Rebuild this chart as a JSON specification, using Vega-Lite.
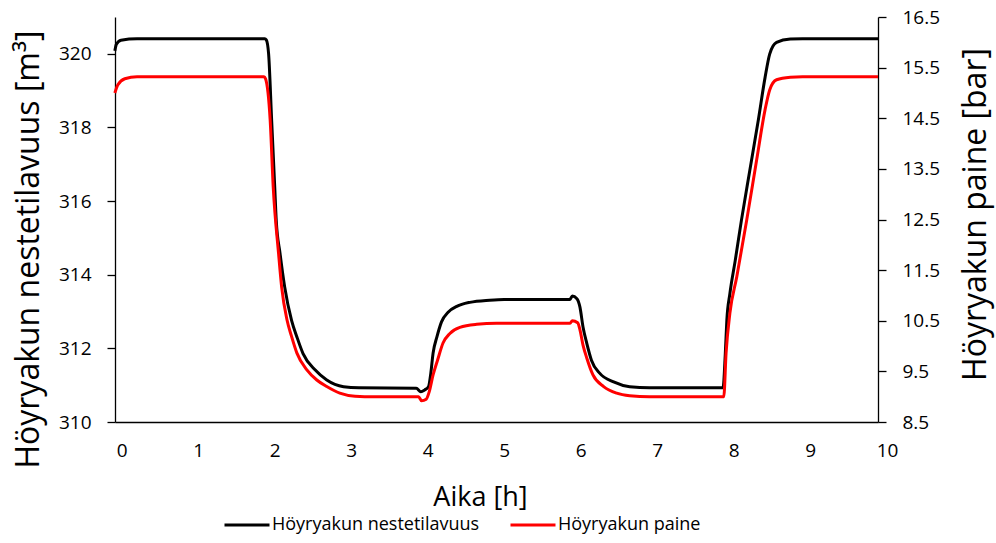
{
  "$schema": "https://vega.github.io/schema/vega-lite/v6.json",
  "width": 763,
  "height": 405,
  "autosize": {"type": "none"},
  "padding": {"left": 115, "top": 17, "right": 118, "bottom": 121},
  "background": "white",
  "config": {
    "view": {"stroke": null},
    "font": "Open Sans",
    "axis": {
      "grid": false,
      "domainColor": "#000000",
      "tickColor": "#000000",
      "labelColor": "#000000",
      "titleColor": "#000000",
      "labelFont": "Open Sans",
      "titleFont": "Open Sans",
      "titleFontWeight": "normal",
      "domainWidth": 1.3,
      "tickWidth": 1.3,
      "labelFontSize": 19
    },
    "legend": {"labelFont": "Open Sans", "labelColor": "#000000"}
  },
  "datasets": {
    "vol": [
      {"t": -0.09, "v": 320.08}, {"t": -0.07, "v": 320.26}, {"t": -0.01, "v": 320.37}, {"t": 0.2, "v": 320.41},
      {"t": 1.87, "v": 320.41}, {"t": 1.89, "v": 320.38}, {"t": 1.92, "v": 320.0}, {"t": 1.96, "v": 318.18},
      {"t": 2.0, "v": 316.38}, {"t": 2.02, "v": 315.47}, {"t": 2.07, "v": 314.57}, {"t": 2.13, "v": 313.67},
      {"t": 2.22, "v": 312.76}, {"t": 2.29, "v": 312.31}, {"t": 2.37, "v": 311.86}, {"t": 2.53, "v": 311.41},
      {"t": 2.68, "v": 311.14}, {"t": 2.9, "v": 310.96}, {"t": 3.1, "v": 310.93}, {"t": 3.85, "v": 310.92},
      {"t": 3.91, "v": 310.82}, {"t": 3.96, "v": 310.87}, {"t": 4.01, "v": 310.96}, {"t": 4.04, "v": 311.32},
      {"t": 4.07, "v": 311.87}, {"t": 4.12, "v": 312.31}, {"t": 4.18, "v": 312.72}, {"t": 4.27, "v": 312.99},
      {"t": 4.38, "v": 313.14}, {"t": 4.55, "v": 313.25}, {"t": 4.81, "v": 313.31}, {"t": 5.0, "v": 313.33},
      {"t": 5.86, "v": 313.33}, {"t": 5.89, "v": 313.42}, {"t": 5.95, "v": 313.35}, {"t": 5.99, "v": 313.12},
      {"t": 6.03, "v": 312.58}, {"t": 6.08, "v": 312.13}, {"t": 6.14, "v": 311.68}, {"t": 6.25, "v": 311.32},
      {"t": 6.43, "v": 311.09}, {"t": 6.64, "v": 310.96}, {"t": 6.9, "v": 310.93}, {"t": 7.86, "v": 310.93},
      {"t": 7.89, "v": 311.86}, {"t": 7.91, "v": 312.76}, {"t": 7.95, "v": 313.49}, {"t": 8.02, "v": 314.39},
      {"t": 8.1, "v": 315.47}, {"t": 8.21, "v": 316.83}, {"t": 8.32, "v": 318.18}, {"t": 8.41, "v": 319.36},
      {"t": 8.47, "v": 319.99}, {"t": 8.56, "v": 320.31}, {"t": 8.74, "v": 320.4}, {"t": 8.9, "v": 320.41},
      {"t": 9.886, "v": 320.41}
    ],
    "pres": [
      {"t": -0.09, "p": 15.0}, {"t": -0.05, "p": 15.16}, {"t": 0.04, "p": 15.28}, {"t": 0.2, "p": 15.32},
      {"t": 1.86, "p": 15.32}, {"t": 1.88, "p": 15.28}, {"t": 1.94, "p": 14.47}, {"t": 1.98, "p": 13.15},
      {"t": 2.05, "p": 11.83}, {"t": 2.09, "p": 11.17}, {"t": 2.16, "p": 10.52}, {"t": 2.22, "p": 10.19},
      {"t": 2.29, "p": 9.86}, {"t": 2.42, "p": 9.53}, {"t": 2.55, "p": 9.33}, {"t": 2.68, "p": 9.2},
      {"t": 2.85, "p": 9.07}, {"t": 3.05, "p": 9.01}, {"t": 3.3, "p": 9.0}, {"t": 3.88, "p": 9.0},
      {"t": 3.92, "p": 8.92}, {"t": 3.98, "p": 8.95}, {"t": 4.02, "p": 9.1}, {"t": 4.07, "p": 9.43},
      {"t": 4.13, "p": 9.73}, {"t": 4.2, "p": 10.06}, {"t": 4.29, "p": 10.25}, {"t": 4.42, "p": 10.37},
      {"t": 4.64, "p": 10.43}, {"t": 4.9, "p": 10.45}, {"t": 5.86, "p": 10.45}, {"t": 5.89, "p": 10.5},
      {"t": 5.96, "p": 10.46}, {"t": 5.99, "p": 10.32}, {"t": 6.03, "p": 10.02}, {"t": 6.08, "p": 9.76},
      {"t": 6.16, "p": 9.43}, {"t": 6.3, "p": 9.2}, {"t": 6.47, "p": 9.07}, {"t": 6.64, "p": 9.02},
      {"t": 6.9, "p": 9.0}, {"t": 7.87, "p": 9.0}, {"t": 7.9, "p": 9.86}, {"t": 7.95, "p": 10.65},
      {"t": 8.04, "p": 11.37}, {"t": 8.17, "p": 12.49}, {"t": 8.3, "p": 13.68}, {"t": 8.41, "p": 14.67},
      {"t": 8.47, "p": 15.06}, {"t": 8.56, "p": 15.26}, {"t": 8.74, "p": 15.31}, {"t": 8.9, "p": 15.32},
      {"t": 9.886, "p": 15.32}
    ]
  },
  "encoding": {
    "x": {
      "field": "t",
      "type": "quantitative",
      "scale": {"domain": [-0.088, 9.886], "nice": false, "zero": false},
      "axis": {
        "values": [0, 1, 2, 3, 4, 5, 6, 7, 8, 9, 9.886],
        "labelExpr": "datum.value > 9.5 ? '10' : datum.label",
        "labelOffset": {"condition": {"test": "datum.value > 9.5", "value": 9}, "value": 0},
        "title": "Aika [h]",
        "tickSize": 0,
        "labelPadding": 19,
        "labelFlush": false,
        "labelBound": false,
        "labelOverlap": false,
        "titleFontSize": 27,
        "titleX": 365,
        "titleY": 83,
        "titleBaseline": "alphabetic",
        "titleAlign": "center"
      }
    }
  },
  "layer": [
    {
      "data": {"name": "vol"},
      "mark": {"type": "line", "strokeWidth": 3, "interpolate": "monotone"},
      "encoding": {
        "y": {
          "field": "v",
          "type": "quantitative",
          "scale": {"domain": [310, 321], "nice": false, "zero": false},
          "axis": {
            "orient": "left",
            "values": [310, 312, 314, 316, 318, 320],
            "title": "Höyryakun nestetilavuus [m³]",
            "tickSize": 8,
            "labelPadding": 16,
            "titleFontSize": 32,
            "titleAngle": 270,
            "titleX": -87,
            "titleY": 232,
            "titleBaseline": "middle",
            "titleAlign": "center"
          }
        },
        "color": {
          "datum": "Höyryakun nestetilavuus",
          "type": "nominal",
          "scale": {"domain": ["Höyryakun nestetilavuus", "Höyryakun paine"], "range": ["#000000", "#ff0000"]},
          "legend": {
            "title": null,
            "orient": "none",
            "direction": "horizontal",
            "legendX": 108,
            "legendY": 484,
            "symbolType": "stroke",
            "symbolSize": 2025,
            "symbolStrokeWidth": 3,
            "labelFontSize": 18,
            "labelOffset": 1,
            "labelLimit": 0,
            "columnPadding": 24
          }
        }
      }
    },
    {
      "data": {"name": "pres"},
      "mark": {"type": "line", "strokeWidth": 3, "interpolate": "monotone"},
      "encoding": {
        "y": {
          "field": "p",
          "type": "quantitative",
          "scale": {"domain": [8.5, 16.5], "nice": false, "zero": false},
          "axis": {
            "orient": "right",
            "values": [8.5, 9.5, 10.5, 11.5, 12.5, 13.5, 14.5, 15.5, 16.5],
            "format": ".1f",
            "title": "Höyryakun paine [bar]",
            "tickSize": 8,
            "labelPadding": 16,
            "titleFontSize": 32,
            "titleAngle": 270,
            "titleX": 97,
            "titleY": 197,
            "titleBaseline": "middle",
            "titleAlign": "center"
          }
        },
        "color": {"datum": "Höyryakun paine", "type": "nominal"}
      }
    }
  ],
  "resolve": {"scale": {"y": "independent"}}
}
